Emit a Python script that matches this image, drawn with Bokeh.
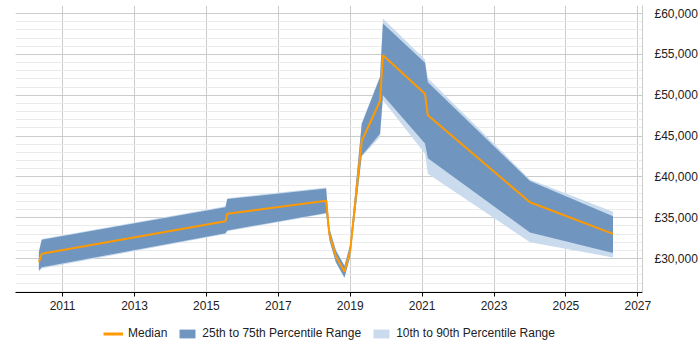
from bokeh.plotting import figure
from bokeh.layouts import column
from bokeh.models import FixedTicker, Legend, LegendItem, Range1d
from bokeh.embed import file_html
from bokeh.resources import INLINE

dates = [2010.34, 2010.42, 2015.53, 2015.58, 2018.33, 2018.42, 2018.6, 2018.84,
         2019.0, 2019.32, 2019.83, 2019.91, 2021.08, 2021.16, 2024.0, 2026.31]
median = [29550, 30600, 34580, 35500, 37100, 33000, 30300, 28400,
          31000, 44400, 49300, 54900, 50200, 47550, 36900, 33030]
p25 = [28550, 28950, 33100, 33450, 35600, 32300, 29600, 27700,
       30300, 42600, 45300, 50000, 44100, 42300, 33200, 30700]
p75 = [30800, 32300, 36300, 37300, 38600, 33700, 31000, 29100,
       31700, 46500, 52200, 58800, 54000, 51600, 39500, 35200]
p10 = [28400, 28800, 33000, 33350, 35500, 32200, 29500, 27600,
       30200, 42500, 44900, 49400, 42850, 40400, 32000, 30150]
p90 = [30900, 32400, 36400, 37400, 38700, 33800, 31100, 29200,
       31800, 46600, 52400, 59400, 54400, 52100, 39700, 35750]

x_ticks = [2011, 2013, 2015, 2017, 2019, 2021, 2023, 2025, 2027]
y_ticks = [30000, 35000, 40000, 45000, 50000, 55000, 60000]
y_labels = ["£30,000", "£35,000", "£40,000", "£45,000", "£50,000", "£55,000", "£60,000"]
y_minor = list(range(26000, 61001, 1000))
series_names = ["Median", "25th to 75th Percentile Range", "10th to 90th Percentile Range"]

FONT = "Liberation Sans"
MED_C, DARK_C, LIGHT_C = "#ff9900", "#7096c0", "#c9dbed"

p = figure(width=700, height=316, output_backend="svg",
           toolbar_location=None, y_axis_location="right",
           x_range=Range1d(2009.69, 2027.13), y_range=Range1d(25850, 61000),
           min_border_left=15, min_border_top=5, min_border_right=58,
           min_border_bottom=24)
p.outline_line_color = None

p.varea(x=dates, y1=p10, y2=p90, fill_color=LIGHT_C)
p.varea(x=dates, y1=p25, y2=p75, fill_color=DARK_C)
p.line(x=dates, y=median, line_color=MED_C, line_width=2)

p.xaxis.ticker = FixedTicker(ticks=x_ticks)
p.yaxis.ticker = FixedTicker(ticks=y_ticks, minor_ticks=y_minor)
p.yaxis.major_label_overrides = {t: l for t, l in zip(y_ticks, y_labels)}

p.xgrid.grid_line_color = "#cccccc"
p.ygrid.grid_line_color = "#cccccc"
p.ygrid.minor_grid_line_color = "#ebebeb"

p.xaxis.axis_line_color = "#000000"
p.xaxis.major_tick_line_color = "#000000"
p.xaxis.major_tick_in = 0
p.xaxis.major_tick_out = 4
p.xaxis.minor_tick_line_color = None
p.xaxis.major_label_standoff = 4
p.yaxis.axis_line_color = "#cccccc"
p.yaxis.major_tick_line_color = None
p.yaxis.minor_tick_line_color = None
p.yaxis.major_label_standoff = 6
for ax in (p.xaxis, p.yaxis):
    ax.major_label_text_font = FONT
    ax.major_label_text_font_size = "12px"
    ax.major_label_text_color = "#222222"

# legend strip (proxy renderers lie outside the visible range)
q = figure(width=700, height=34, output_backend="svg", toolbar_location=None,
           x_range=Range1d(0, 1), y_range=Range1d(0, 1),
           min_border_left=0, min_border_right=0, min_border_top=0, min_border_bottom=0)
q.axis.visible = False
q.grid.visible = False
q.outline_line_color = None
r_med = q.line(x=[5, 6], y=[5, 5], line_color=MED_C, line_width=3)
r_dark = q.varea(x=[5, 6], y1=[5, 5], y2=[6, 6], fill_color=DARK_C)
r_light = q.varea(x=[5, 6], y1=[5, 5], y2=[6, 6], fill_color=LIGHT_C)

legend = Legend(items=[
    LegendItem(label=series_names[0], renderers=[r_med]),
    LegendItem(label=series_names[1], renderers=[r_dark]),
    LegendItem(label=series_names[2], renderers=[r_light]),
], orientation="horizontal", location=(88, 10))
legend.label_text_font = FONT
legend.label_text_font_size = "12px"
legend.label_text_color = "#222222"
legend.glyph_width = 20
legend.glyph_height = 11
legend.label_standoff = 5
legend.spacing = 10
legend.padding = 0
legend.margin = 0
legend.border_line_color = None
legend.background_fill_alpha = 0
q.add_layout(legend)

open("out.html", "w").write(file_html(column(p, q), INLINE))
